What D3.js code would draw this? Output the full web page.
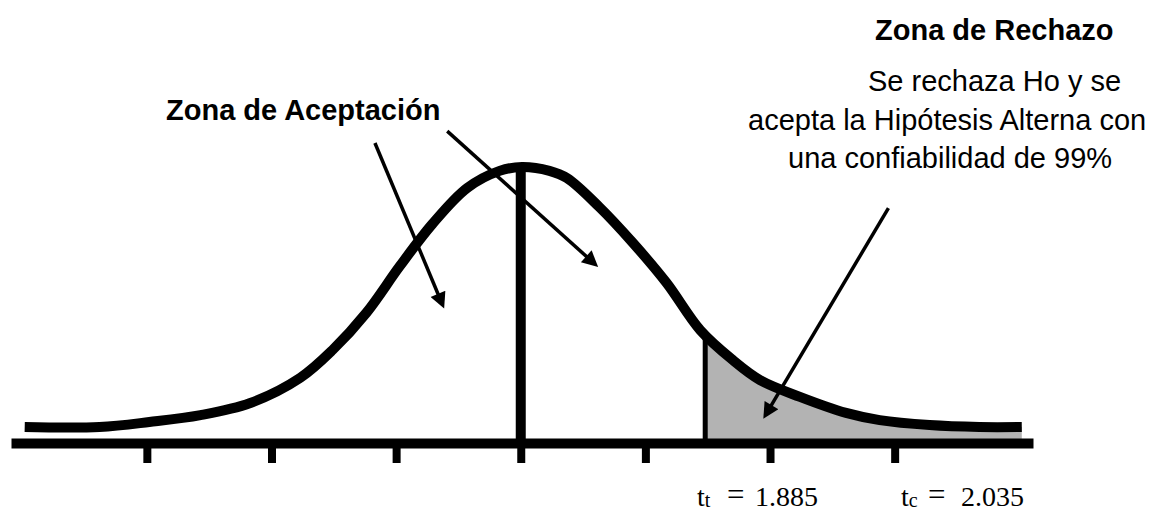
<!DOCTYPE html>
<html>
<head>
<meta charset="utf-8">
<script src="https://d3js.org/d3.v7.min.js"></script>
<style>
  body { margin: 0; background: #fff; }
</style>
</head>
<body>
<div id="visual"></div>
<script>
// curve: t position and relative height (peak = 1)
var curveX = [-3.98, -3.38, -2.98, -2.57, -2.17, -1.77, -1.51, -1.24, -0.97, -0.71, -0.43, -0.17, 0.01,
              0.23, 0.37, 0.63, 0.90, 1.17, 1.44, 1.70, 1.92, 2.24, 2.61, 2.88, 3.28, 3.68, 4.02];
var curveY = [0.058, 0.058, 0.076, 0.101, 0.145, 0.236, 0.337, 0.471, 0.641, 0.793, 0.924, 0.986, 1.0,
              0.986, 0.960, 0.855, 0.725, 0.580, 0.409, 0.301, 0.228, 0.167, 0.109, 0.083, 0.065, 0.058, 0.058];
var tickValues = [-3, -2, -1, 0, 1, 2, 3];
var rejectFrom = 1.48;

var acceptTitle = "Zona de Aceptación";
var rejectTitle = "Zona de Rechazo";
var rejectLines = ["Se rechaza Ho y se", "acepta la Hipótesis Alterna con", "una confiabilidad de 99%"];
var ttLabel = ["t", "t", "1.885"];
var tcLabel = ["t", "c", "2.035"];

var width = 1156, height = 512;
var data = curveX.map(function(d, i) { return {t: d, h: curveY[i]}; });

var svg = d3.select("#visual")
  .append("svg")
    .attr("width", width)
    .attr("height", height);

var x = d3.scaleLinear().domain([-4.09, 4.11]).range([11, 1033]);
var y = d3.scaleLinear().domain([0, 1]).range([443, 167]);

var lineGen = d3.line()
  .x(function(d) { return x(d.t); })
  .y(function(d) { return y(d.h); })
  .curve(d3.curveCatmullRom);

var areaGen = d3.area()
  .x(function(d) { return x(d.t); })
  .y0(y(0))
  .y1(function(d) { return y(d.h); })
  .curve(d3.curveCatmullRom);

var defs = svg.append("defs");
defs.append("clipPath").attr("id", "reject")
  .append("rect")
    .attr("x", x(rejectFrom)).attr("y", 0)
    .attr("width", width - x(rejectFrom)).attr("height", height);
defs.append("clipPath").attr("id", "under")
  .append("path")
    .datum(data)
    .attr("d", areaGen);
defs.append("marker")
    .attr("id", "head")
    .attr("viewBox", "0 0 10 10")
    .attr("refX", 5).attr("refY", 5)
    .attr("markerUnits", "userSpaceOnUse")
    .attr("markerWidth", 19).attr("markerHeight", 16)
    .attr("orient", "auto")
  .append("path")
    .attr("d", "M0,0 L10,5 L0,10 z")
    .attr("fill", "#000");

// rejection region
svg.append("path")
  .datum(data)
  .attr("clip-path", "url(#reject)")
  .attr("fill", "#b3b3b3")
  .attr("d", areaGen);

// vertical lines under the curve
var under = svg.append("g").attr("clip-path", "url(#under)");
under.append("line")
  .attr("x1", x(0)).attr("x2", x(0))
  .attr("y1", y(0)).attr("y2", y(1.2))
  .attr("stroke", "#000").attr("stroke-width", 10);
under.append("line")
  .attr("x1", x(rejectFrom)).attr("x2", x(rejectFrom))
  .attr("y1", y(0)).attr("y2", y(1.2))
  .attr("stroke", "#000").attr("stroke-width", 5);

// axis
var axis = svg.append("g")
  .attr("transform", "translate(0," + y(0) + ")")
  .call(d3.axisBottom(x).tickValues(tickValues).tickSize(20).tickSizeOuter(0).tickFormat(""));
axis.select(".domain").attr("stroke", "#000").attr("stroke-width", 10);
axis.selectAll(".tick line").attr("stroke", "#000").attr("stroke-width", 8);

// curve
svg.append("path")
  .datum(data)
  .attr("fill", "none")
  .attr("stroke", "#000")
  .attr("stroke-width", 10)
  .attr("d", lineGen);

// arrows (t units / height units)
var arrows = [
  [-1.17, 1.087, -0.61, 0.482],
  [-0.59, 1.130, 0.63, 0.634],
  [2.95, 0.851, 1.94, 0.083]
];
arrows.forEach(function(a) {
  var x0 = x(a[0]), y0 = y(a[1]), x1 = x(a[2]), y1 = y(a[3]);
  var len = Math.hypot(x1 - x0, y1 - y0);
  var k = (len - 9.5) / len;
  svg.append("line")
    .attr("x1", x0).attr("y1", y0)
    .attr("x2", x0 + (x1 - x0) * k).attr("y2", y0 + (y1 - y0) * k)
    .attr("stroke", "#000").attr("stroke-width", 3.5)
    .attr("marker-end", "url(#head)");
});

// texts
var sans = "'Liberation Sans', Arial, sans-serif";
svg.append("text")
  .attr("x", 166).attr("y", 120)
  .style("font-family", sans).style("font-size", "29px").style("font-weight", "bold")
  .text(acceptTitle);
svg.append("text")
  .attr("x", 875).attr("y", 40)
  .style("font-family", sans).style("font-size", "29px").style("font-weight", "bold")
  .text(rejectTitle);
var lineX = [868, 748, 788];
rejectLines.forEach(function(s, i) {
  svg.append("text")
    .attr("x", lineX[i]).attr("y", 91 + i * 38.5)
    .style("font-family", sans).style("font-size", "29px")
    .text(s);
});

// t labels under the axis
function tLabel(lab, x0, eqOff, numOff) {
  var g = svg.append("g")
    .style("font-family", "'Liberation Serif', 'Times New Roman', serif")
    .style("font-size", "28px");
  var t = g.append("text").attr("x", x0).attr("y", 506);
  t.append("tspan").text(lab[0]);
  t.append("tspan").attr("dy", 1).style("font-size", "20px").text(lab[1]);
  g.append("text").attr("x", x0 + eqOff).attr("y", 505).style("font-size", "31px").text("=");
  g.append("text").attr("x", x0 + numOff).attr("y", 506).text(lab[2]);
}
tLabel(ttLabel, 697, 30, 58);
tLabel(tcLabel, 901, 27, 60);
</script>
</body>
</html>
